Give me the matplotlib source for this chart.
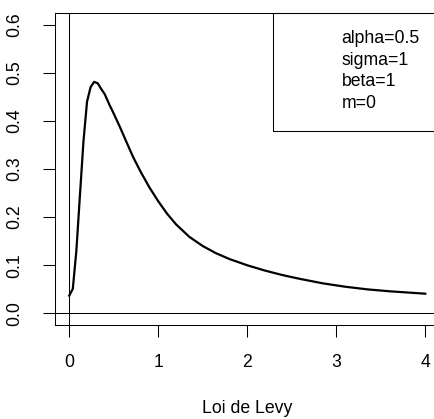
import numpy as np
import matplotlib.pyplot as plt
from matplotlib.patches import Rectangle

plt.rcParams['font.family'] = ['Liberation Sans', 'DejaVu Sans']

# densite
x = [0, 0.04, 0.08, 0.12, 0.16, 0.20, 0.24, 0.28, 0.32, 0.36, 0.40, 0.45,
     0.50, 0.57, 0.65, 0.72, 0.80, 0.90, 1.0, 1.1, 1.2, 1.35, 1.5, 1.65,
     1.8, 2.0, 2.2, 2.4, 2.6, 2.85, 3.1, 3.35, 3.6, 3.8, 4.0]
y = [0.037, 0.051, 0.13, 0.245, 0.358, 0.44, 0.47, 0.481, 0.478, 0.466,
     0.455, 0.434, 0.415, 0.387, 0.353, 0.324, 0.295, 0.262, 0.233, 0.207,
     0.185, 0.159, 0.14, 0.125, 0.113, 0.10, 0.089, 0.0795, 0.0715, 0.0625,
     0.0555, 0.050, 0.046, 0.0435, 0.041]
params = ["alpha=0.5", "sigma=1", "beta=1", "m=0"]
xticks = [0, 1, 2, 3, 4]
yticks = [0.0, 0.1, 0.2, 0.3, 0.4, 0.5, 0.6]
fs = 12.7

fig = plt.figure(figsize=(4.34, 4.19), dpi=100)
ax = fig.add_axes([55 / 434, 94 / 419, 384.5 / 434, 312 / 419])

ax.plot(x, y, color='black', lw=1.6, solid_joinstyle='round')
ax.axhline(0, color='black', lw=0.75)
ax.axvline(0, color='black', lw=0.75)

ax.set_xlim(-0.16, 4.16)
ax.set_ylim(-0.024, 0.624)
ax.set_xticks(xticks)
ax.set_yticks(yticks)
ax.set_xticklabels([str(t) for t in xticks])
ax.set_yticklabels(["%.1f" % t for t in yticks], rotation=90, va='center')
ax.tick_params(direction='out', length=8.6, width=0.75, labelsize=fs)
ax.tick_params(axis='x', pad=12.5)
ax.tick_params(axis='y', pad=14.5)
for s in ax.spines.values():
    s.set_linewidth(0.75)

ax.set_xlabel("Loi de Levy", fontsize=fs, labelpad=21)

# cadre de legende en haut a droite
ax.add_patch(Rectangle((2.29, 0.378), 1.87, 0.246, fill=False,
                       edgecolor='black', lw=0.75, clip_on=False))
for i, p in enumerate(params):
    ax.text(3.06, 0.571 - i * 0.045, p, fontsize=fs, va='center', ha='left')

fig.savefig("out.png", dpi=100)
